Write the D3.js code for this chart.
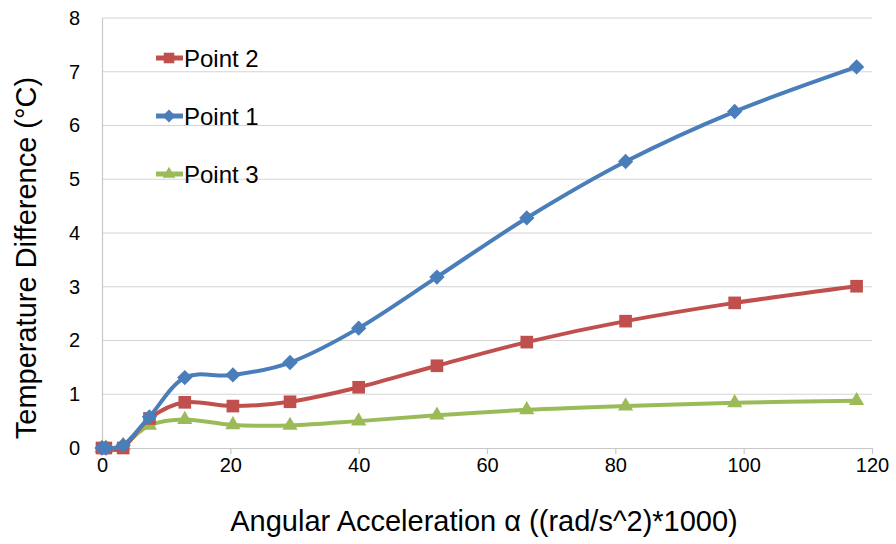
<!DOCTYPE html>
<html>
<head>
<meta charset="utf-8">
<script src="https://cdn.jsdelivr.net/npm/d3@7/dist/d3.min.js"></script>
<style>
  html, body { margin: 0; padding: 0; background: #fff; }
  svg text { font-family: "Liberation Sans", Arial, sans-serif; fill: #000; }
</style>
</head>
<body>
<svg id="chart" width="896" height="544"></svg>
<script>
// Angular acceleration samples (x axis, (rad/s^2)*1000)
const accel = [0, 0.6, 3.3, 7.4, 12.9, 20.4, 29.3, 40.0, 52.2, 66.2, 81.6, 98.6, 117.6];
// Temperature difference per measuring point (°C)
const point1 = [0, 0, 0.05, 0.58, 1.31, 1.36, 1.59, 2.23, 3.18, 4.28, 5.33, 6.26, 7.09];
const point2 = [0, 0, 0, 0.55, 0.85, 0.78, 0.86, 1.13, 1.53, 1.97, 2.36, 2.70, 3.01];
const point3 = [0, 0, 0.05, 0.42, 0.53, 0.43, 0.42, 0.50, 0.61, 0.71, 0.78, 0.84, 0.88];

const xTicks = [0, 20, 40, 60, 80, 100, 120];
const yTicks = [0, 1, 2, 3, 4, 5, 6, 7, 8];
const legendOrder = ["Point 2", "Point 1", "Point 3"];

const diamond = d3.symbolDiamond2 || d3.symbolDiamond;
const series = [
  { name: "Point 2", values: point2, color: "#C0504D", symbol: d3.symbolSquare, size: 160 },
  { name: "Point 1", values: point1, color: "#4A7EBB", symbol: diamond, size: 150 },
  { name: "Point 3", values: point3, color: "#9BBB59", symbol: d3.symbolTriangle, size: 100 }
];

const svg = d3.select("#chart");
const plotLeft = 102, plotRight = 872, plotTop = 18, plotBottom = 448;

const x = d3.scaleLinear().domain([0, 120]).range([plotLeft, plotRight]);
const y = d3.scaleLinear().domain([0, 8]).range([plotBottom, plotTop]);

// horizontal gridlines
svg.append("g").selectAll("line").data(yTicks.filter(v => v > 0)).join("line")
  .attr("x1", plotLeft).attr("x2", plotRight)
  .attr("y1", d => y(d)).attr("y2", d => y(d))
  .attr("stroke", "#d4d4d4").attr("stroke-width", 1.2);

// y axis
const yAxis = svg.append("g").attr("transform", `translate(${plotLeft},0)`)
  .call(d3.axisLeft(y).tickValues(yTicks).tickSize(0).tickPadding(22).tickFormat(d3.format("d")));
yAxis.select(".domain").attr("stroke", "#c8c8c8").attr("stroke-width", 1.2);
yAxis.selectAll("text").style("font-size", "20px");

// x axis
const xAxis = svg.append("g").attr("transform", `translate(0,${plotBottom})`)
  .call(d3.axisBottom(x).tickValues(xTicks).tickSize(6).tickPadding(4).tickSizeOuter(0).tickFormat(d3.format("d")));
xAxis.select(".domain").attr("stroke", "#c8c8c8").attr("stroke-width", 1.2);
xAxis.selectAll(".tick line").attr("stroke", "#c8c8c8").attr("stroke-width", 1.2);
xAxis.selectAll("text").style("font-size", "20px");

// axis titles
svg.append("text")
  .attr("x", 484).attr("y", 531)
  .attr("text-anchor", "middle").style("font-size", "29px")
  .text("Angular Acceleration α ((rad/s^2)*1000)");
svg.append("text")
  .attr("transform", "translate(36,258) rotate(-90)")
  .attr("text-anchor", "middle").style("font-size", "29px")
  .text("Temperature Difference (°C)");

// series lines and markers
const line = d3.line()
  .x((d, i) => x(accel[i]))
  .y(d => y(d))
  .curve(d3.curveCatmullRom.alpha(0));

const drawOrder = ["Point 3", "Point 2", "Point 1"];
drawOrder.forEach(name => {
  const s = series.find(v => v.name === name);
  const g = svg.append("g");
  g.append("path").datum(s.values)
    .attr("d", line)
    .attr("fill", "none").attr("stroke", s.color)
    .attr("stroke-width", 4).attr("stroke-linejoin", "round");
  g.selectAll("path.m").data(s.values).join("path").attr("class", "m")
    .attr("transform", (d, i) => `translate(${x(accel[i])},${y(d)})`)
    .attr("d", d3.symbol().type(s.symbol).size(s.size))
    .attr("fill", s.color);
});

// legend
const legend = svg.append("g");
legendOrder.forEach((name, i) => {
  const s = series.find(v => v.name === name);
  const cy = 58 + i * 58;
  legend.append("line")
    .attr("x1", 156).attr("x2", 183).attr("y1", cy).attr("y2", cy)
    .attr("stroke", s.color).attr("stroke-width", 5);
  legend.append("path")
    .attr("transform", `translate(169,${cy})`)
    .attr("d", d3.symbol().type(s.symbol).size(s.size * 0.7))
    .attr("fill", s.color);
  legend.append("text")
    .attr("x", 184).attr("y", cy + 9)
    .style("font-size", "24px")
    .text(name);
});
</script>
</body>
</html>
